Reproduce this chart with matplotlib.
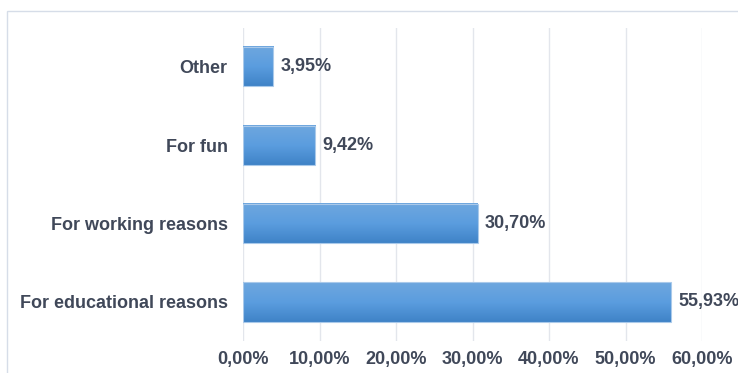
import numpy as np
import matplotlib.pyplot as plt
from matplotlib.colors import LinearSegmentedColormap
from matplotlib.patches import Rectangle
from matplotlib.ticker import FuncFormatter

# usage motives, bottom to top
categories = ["For educational reasons", "For working reasons", "For fun", "Other"]
shares = [55.93, 30.70, 9.42, 3.95]
xticks = [0, 10, 20, 30, 40, 50, 60]

txt_col = "#404859"
grid_col = "#e3e6ec"
fsize = 13

plt.rcParams['font.family'] = ['Liberation Sans', 'DejaVu Sans']

fig = plt.figure(figsize=(7.38, 3.73), dpi=100)

# light frame around the chart area
fig.patches.append(Rectangle((7 / 738, -0.1), 1.2, (373 - 11) / 373 + 0.1,
                             transform=fig.transFigure, fill=False,
                             edgecolor="#d6dde8", linewidth=1.0))

ax = fig.add_axes([243 / 738, 31.8 / 373, 459 / 738, 313.7 / 373])

y = np.arange(len(categories))
bars = ax.barh(y, shares, height=0.5, color="none", edgecolor="#a9c9ea",
               linewidth=0.8, zorder=3)

# vertical gradient fill for each bar
cmap = LinearSegmentedColormap.from_list("bluegrad", ["#3f83c7", "#5b9ddf", "#6ea7de"])
grad = np.linspace(0, 1, 100).reshape(-1, 1)
for b in bars:
    x0, y0 = b.get_x(), b.get_y()
    w, h = b.get_width(), b.get_height()
    ax.imshow(grad, cmap=cmap, aspect="auto", origin="lower",
              extent=(x0, x0 + w, y0, y0 + h), zorder=2, interpolation="bicubic")

for yi, v in zip(y, shares):
    ax.text(v + 0.95, yi, f"{v:.2f}%".replace(".", ","), va="center", ha="left",
            fontsize=fsize, fontweight="bold", color=txt_col, clip_on=False)

ax.set_xlim(0, 60)
ax.set_ylim(-0.5, len(categories) - 0.5)
ax.set_xticks(xticks)
ax.xaxis.set_major_formatter(FuncFormatter(lambda v, p: f"{v:.2f}%".replace(".", ",")))
ax.set_yticks(y)
ax.set_yticklabels(categories)

ax.grid(axis="x", color=grid_col, linewidth=1.0, zorder=0)
ax.set_axisbelow(True)
for s in ax.spines.values():
    s.set_visible(False)
ax.tick_params(axis="both", length=0, labelsize=fsize, colors=txt_col)
ax.tick_params(axis="y", pad=11)
ax.tick_params(axis="x", pad=7)
for lbl in ax.get_xticklabels() + ax.get_yticklabels():
    lbl.set_fontweight("bold")

fig.savefig("out.png", dpi=100)
